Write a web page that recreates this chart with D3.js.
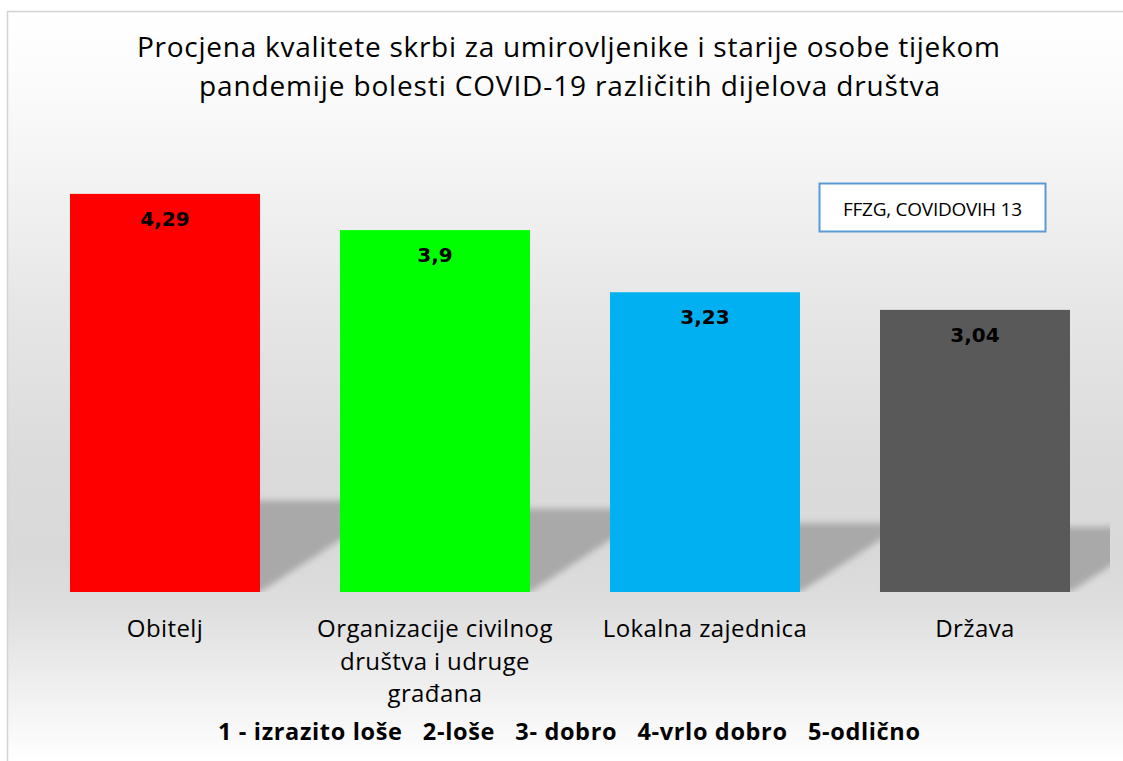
<!DOCTYPE html>
<html>
<head>
<meta charset="utf-8">
<script src="https://cdn.jsdelivr.net/npm/d3@7"></script>
<style>
  html, body { margin: 0; padding: 0; background: #ffffff; }
  svg { display: block; }
</style>
</head>
<body>
<svg id="chart" width="1123" height="761"></svg>
<script>
// ---- data ----
const categories = ["Obitelj", "Organizacije civilnog društva i udruge građana", "Lokalna zajednica", "Država"];
const categoryLines = [["Obitelj"], ["Organizacije civilnog", "društva i udruge", "građana"], ["Lokalna zajednica"], ["Država"]];
const values = [4.29, 3.9, 3.23, 3.04];
const barColors = ["#ff0000", "#00ff00", "#00b0f0", "#595959"];
const titleLines = ["Procjena kvalitete skrbi za umirovljenike i starije osobe tijekom",
                    "pandemije bolesti COVID-19 različitih dijelova društva"];
const scaleNote = "1 - izrazito loše   2-loše   3- dobro   4-vrlo dobro   5-odlično";
const sourceNote = "FFZG, COVIDOVIH 13";
const yDomain = [0, 5];

// ---- layout ----
const svg = d3.select("#chart");
const plot = { left: 30, right: 1110, top: 128, bottom: 592 };

const x = d3.scaleBand().domain(categories).range([plot.left, plot.right])
  .paddingInner(80 / 270).paddingOuter(40 / 270);
const y = d3.scaleLinear().domain(yDomain).range([plot.bottom, plot.top]);

const defs = svg.append("defs");
const bg = defs.append("linearGradient").attr("id", "bgGrad")
  .attr("gradientUnits", "userSpaceOnUse").attr("x1", 0).attr("x2", 0).attr("y1", 11).attr("y2", 761);
[[0, "#ffffff"], [0.12, "#fafafa"], [0.25, "#f1f1f1"], [0.4, "#e6e6e6"], [0.6, "#dbdbdb"],
 [0.73, "#d9d9d9"], [0.8, "#dfdfdf"], [0.9, "#efefef"], [1, "#ffffff"]]
  .forEach(([o, c]) => bg.append("stop").attr("offset", o).attr("stop-color", c));

const blur = defs.append("filter").attr("id", "shadowBlur")
  .attr("x", "-10%").attr("y", "-20%").attr("width", "120%").attr("height", "140%");
blur.append("feGaussianBlur").attr("stdDeviation", 3);

defs.append("clipPath").attr("id", "plotClip").append("rect")
  .attr("x", 8).attr("y", 0).attr("width", plot.right - 8).attr("height", plot.bottom);

// background
svg.append("rect").attr("x", 7.5).attr("y", 11.5).attr("width", 1200).attr("height", 800)
  .attr("fill", "url(#bgGrad)").attr("stroke", "#d4d4d4").attr("stroke-width", 1.5);

// title
const titleG = svg.append("g");
const titleBaselines = [57, 96];
const titleWidths = [863, 741];
const titleCenters = [568.5, 569.5];
titleLines.forEach((t, i) => {
  titleG.append("text").attr("x", titleCenters[i]).attr("y", titleBaselines[i])
    .attr("text-anchor", "middle").attr("font-family", "'Open Sans', sans-serif")
    .attr("font-size", 28).attr("fill", "#000")
    .attr("textLength", titleWidths[i]).attr("lengthAdjust", "spacing").text(t);
});

// shadows
const shadowK = 0.23, shadowSlope = 0.65;
svg.append("g").attr("clip-path", "url(#plotClip)")
  .append("g").attr("filter", "url(#shadowBlur)")
  .selectAll("path").data(categories).join("path")
  .attr("fill", "#a9a9a9")
  .attr("d", (c, i) => {
    const x0 = x(c), x1 = x(c) + x.bandwidth();
    const h = (y(0) - y(values[i])) * shadowK;
    const dx = h / shadowSlope;
    return `M${x0},${y(0)}L${x1},${y(0)}L${x1 + dx},${y(0) - h}L${x0 + dx},${y(0) - h}Z`;
  });

// bars
svg.append("g").selectAll("rect").data(categories).join("rect")
  .attr("x", c => x(c)).attr("width", x.bandwidth())
  .attr("y", (c, i) => y(values[i])).attr("height", (c, i) => y(0) - y(values[i]))
  .attr("fill", (c, i) => barColors[i]);

// value labels
svg.append("g").selectAll("text").data(categories).join("text")
  .attr("x", c => x(c) + x.bandwidth() / 2)
  .attr("y", (c, i) => y(values[i]) + 32)
  .attr("text-anchor", "middle").attr("font-family", "'DejaVu Sans', sans-serif")
  .attr("font-weight", "bold").attr("font-size", 20).attr("fill", "#000")
  .text((c, i) => String(values[i]).replace(".", ","));

// category labels
const catG = svg.append("g");
categories.forEach((c, i) => {
  categoryLines[i].forEach((line, j) => {
    catG.append("text").attr("x", x(c) + x.bandwidth() / 2).attr("y", 637 + j * 32.5)
      .attr("text-anchor", "middle").attr("font-family", "'Open Sans', sans-serif")
      .attr("font-size", 24).attr("letter-spacing", 0.4).attr("fill", "#000").text(line);
  });
});

// scale note
svg.append("text").attr("x", 569).attr("y", 740).attr("text-anchor", "middle")
  .attr("xml:space", "preserve").style("white-space", "pre")
  .attr("font-family", "'Open Sans', sans-serif").attr("font-weight", "bold")
  .attr("font-size", 23.5).attr("fill", "#000")
  .attr("textLength", 702).attr("lengthAdjust", "spacing").text(scaleNote);

// source box
svg.append("rect").attr("x", 819.5).attr("y", 183.5).attr("width", 226).attr("height", 48)
  .attr("fill", "#ffffff").attr("stroke", "#5b9bd5").attr("stroke-width", 2);
svg.append("text").attr("x", 932.5).attr("y", 216).attr("text-anchor", "middle")
  .attr("font-family", "'Open Sans', sans-serif").attr("font-size", 19).attr("fill", "#000")
  .attr("textLength", 179).attr("lengthAdjust", "spacing").text(sourceNote);
</script>
</body>
</html>
